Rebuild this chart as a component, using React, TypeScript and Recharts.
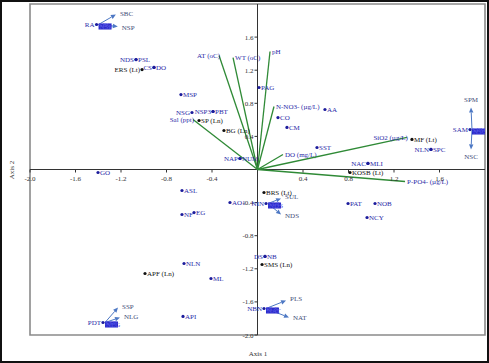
import React from "react";
import {
  ScatterChart,
  Scatter,
  XAxis,
  YAxis,
  ReferenceLine,
  ReferenceDot,
  ReferenceArea,
} from "recharts";

const W = 489;
const H = 363;
const FONT = "'Liberation Serif', 'Times New Roman', serif";
const BLUE = "#2a2aa8";
const DOT_BLUE = "#1c1c9c";
const GREEN = "#2f8a36";
const ARROW = "#4d78c4";
const LEADER_TEXT = "#3f4d78";

// axis ticks
const xTicks = [-2.0, -1.6, -1.2, -0.8, -0.4, 0.4, 0.8, 1.2, 1.6];
const yTicks = [1.6, 1.2, 0.8, 0.4, -0.4, -0.8, -1.2, -1.6, -2.0];

// environmental variables (green vectors from the origin)
const envNames = ["AT (oC)", "WT (oC)", "pH", "N-NO3- (µg/L)", "Sal (ppt)", "DO (mg/L)", "SiO2 (µg/L)", "P-PO4-  (µg/L)"];
const envX = [-0.338, -0.215, 0.11, 0.145, -0.567, 0.224, 1.314, 1.297];
const envY = [1.378, 1.353, 1.426, 0.761, 0.604, 0.181, 0.387, -0.145];
const envLabelLeft = ["AT (oC)", "Sal (ppt)", "SiO2 (µg/L)"];

// species, label right of the point
const spNames = ["PSL", "DO", "MSP", "PBT", "PAG", "AA", "CO", "CM", "SST", "NUM", "SPC", "MLI", "GO", "ASL", "NF", "EG", "AO1", "PAT", "NOB", "NCY", "NLN", "ML", "API", "NB"];
const spX = [-1.068, -0.91, -0.673, -0.391, 0.013, 0.593, 0.18, 0.259, 0.523, -0.154, 1.525, 0.971, -1.402, -0.664, -0.664, -0.558, -0.242, 0.796, 1.033, 0.963, -0.646, -0.409, -0.655, 0.066];
const spY = [1.329, 1.233, 0.906, 0.701, 0.991, 0.725, 0.628, 0.508, 0.266, 0.133, 0.242, 0.073, -0.036, -0.254, -0.544, -0.52, -0.399, -0.411, -0.411, -0.58, -1.136, -1.317, -1.776, -1.051];

// species with label left of the point
const spLeftNames = ["NDS", "CS", "NSG", "NSP3", "NAP", "NLN", "NAC", "DS"];
const spLeftX = [-1.068, -0.91, -0.576, -0.391, -0.154, 1.525, 0.971, 0.066];
const spLeftY = [1.329, 1.233, 0.689, 0.701, 0.133, 0.242, 0.073, -1.051];

// sites (black)
const siteNames = ["ERS (Lt)", "SP (Ln)", "BG (Ln)", "MF (Lt)", "KOSB (Lt)", "BRS (Lt)", "SMS (Ln)", "APF (Ln)"];
const siteX = [-1.015, -0.514, -0.295, 1.358, 0.813, 0.057, 0.04, -0.989];
const siteY = [1.208, 0.592, 0.471, 0.363, -0.036, -0.278, -1.148, -1.257];
const siteLabelLeft = ["ERS (Lt)"];

// crowded points (labels overlap)
const clusterNames = ["RA", "SAM", "NIN", "PDT", "NBN"];
const clusterX = [-1.415, 1.868, 0.075, -1.358, 0.057];
const clusterY = [1.752, 0.483, -0.411, -1.849, -1.68];

// labels moved out of a crowded point, with arrow tips
const leaderNames = ["SBC", "NSP", "SPM", "NSC", "SUL", "NDS", "SSP", "NLG", "PLS", "NAT"];
const leaderFrom = [0, 0, 1, 1, 2, 2, 3, 3, 4, 4];
const leaderX = [-1.245, -1.228, 1.877, 1.877, 0.207, 0.207, -1.226, -1.209, 0.251, 0.277];
const leaderY = [1.873, 1.728, 0.749, 0.242, -0.35, -0.544, -1.668, -1.789, -1.583, -1.788];

const txt = { fontFamily: FONT, fontSize: 7 } as const;

const makePoint = (dot: string, color: string, leftNames: string[], forceLeft = false) => (props: any) => {
  const { cx, cy, payload } = props;
  const left = forceLeft || leftNames.includes(payload.name);
  return (
    <g>
      <circle cx={cx} cy={cy} r={1.6} fill={dot} />
      <text
        x={left ? cx - 2 : cx + 2}
        y={cy + 2.5}
        textAnchor={left ? "end" : "start"}
        fill={color}
        style={txt}
      >
        {payload.name}
      </text>
    </g>
  );
};

// crowded point: overlapping labels end up as a blue blob
const clusterShape = (props: any) => {
  const { cx, cy, payload } = props;
  const hidden: string[] = payload.hidden;
  return (
    <g>
      <circle cx={cx} cy={cy} r={1.6} fill={DOT_BLUE} />
      <text x={cx - 2} y={cy + 2.5} textAnchor="end" fill={BLUE} style={txt}>
        {payload.name}
      </text>
      <rect x={cx + 2} y={cy - 1} width={13} height={6} fill="#2b2bc8" />
      {hidden.map((h, i) => (
        <text key={h} x={cx + 2 + i} y={cy + 2.5 + i * 2} fill="#5656e6" style={txt}>
          {h}
        </text>
      ))}
    </g>
  );
};

const vectorShape = (name: string) => (p: any) => {
  const { x1, y1, x2, y2 } = p;
  const left = envLabelLeft.includes(name);
  return (
    <g>
      <line x1={x1} y1={y1} x2={x2} y2={y2} stroke={GREEN} strokeWidth={1.3} />
      <text
        x={left ? x2 + 1 : x2 + 2}
        y={y2 + 2.5}
        textAnchor={left ? "end" : "start"}
        fill={BLUE}
        style={txt}
      >
        {name}
      </text>
    </g>
  );
};

const leaderShape = (name: string) => (p: any) => {
  const { x1, y1, x2, y2 } = p;
  const sx = x1 + 2;
  const dx = x2 - sx;
  const dy = y2 - y1;
  const len = Math.hypot(dx, dy) || 1;
  const ux = dx / len;
  const uy = dy / len;
  const hl = 5;
  const hw = 2.2;
  const bx = x2 - ux * hl;
  const by = y2 - uy * hl;
  const head = `${x2},${y2} ${bx - uy * hw},${by + ux * hw} ${bx + uy * hw},${by - ux * hw}`;
  const vertical = Math.abs(dx) < 3;
  let lx = x2 + 4;
  let ly = dy < 0 ? y2 + 1 : y2 + 3;
  let anchor: "start" | "middle" = "start";
  if (vertical) {
    anchor = "middle";
    lx = x2;
    ly = dy < 0 ? y2 - 6 : y2 + 10;
  }
  return (
    <g>
      <line x1={sx} y1={y1} x2={bx} y2={by} stroke={ARROW} strokeWidth={1} />
      <polygon points={head} fill={ARROW} />
      <text x={lx} y={ly} textAnchor={anchor} fill={LEADER_TEXT} style={txt}>
        {name}
      </text>
    </g>
  );
};

const xTickShape = (label: string) => (p: any) => (
  <g>
    <line x1={p.cx} y1={p.cy} x2={p.cx} y2={p.cy + 3} stroke="#333" />
    <text x={p.cx} y={p.cy + 11} textAnchor="middle" fill="#333" style={txt}>
      {label}
    </text>
  </g>
);

const yTickShape = (label: string) => (p: any) => (
  <g>
    <line x1={p.cx - 3} y1={p.cy} x2={p.cx} y2={p.cy} stroke="#333" />
    <text x={p.cx - 4} y={p.cy + 2.5} textAnchor="end" fill="#333" style={txt}>
      {label}
    </text>
  </g>
);

export default function App() {
  const species = spNames.map((name, i) => ({ name, x: spX[i], y: spY[i] }));
  const speciesLeft = spLeftNames.map((name, i) => ({ name, x: spLeftX[i], y: spLeftY[i] }));
  const sites = siteNames.map((name, i) => ({ name, x: siteX[i], y: siteY[i] }));
  const clusters = clusterNames.map((name, i) => ({
    name,
    x: clusterX[i],
    y: clusterY[i],
    hidden: leaderNames.filter((_, j) => leaderFrom[j] === i),
  }));

  return (
    <div style={{ position: "absolute", left: 0, top: 0, width: W, height: H, background: "#fff" }}>
      <ScatterChart width={W} height={H} margin={{ top: 4, right: 4, bottom: 28, left: 30 }}>
        <XAxis type="number" dataKey="x" domain={[-2, 2]} allowDataOverflow hide />
        <YAxis type="number" dataKey="y" domain={[-2, 2]} allowDataOverflow hide />
        <ReferenceArea x1={-2} x2={2} y1={-2} y2={2} fill="none" fillOpacity={0} stroke="#8a8a8a" strokeWidth={1.6} />
        <ReferenceLine x={0} stroke="#333" strokeWidth={1} />
        <ReferenceLine y={0} stroke="#333" strokeWidth={1} />
        {xTicks.map((t) => (
          <ReferenceDot key={`xt${t}`} x={t} y={0} r={1} shape={xTickShape(t.toFixed(1))} />
        ))}
        {yTicks.map((t) => (
          <ReferenceDot key={`yt${t}`} x={0} y={t} r={1} shape={yTickShape(t.toFixed(1))} />
        ))}
        {envNames.map((name, i) => (
          <ReferenceLine
            key={name}
            segment={[{ x: 0, y: 0 }, { x: envX[i], y: envY[i] }]}
            shape={vectorShape(name)}
          />
        ))}
        {leaderNames.map((name, i) => (
          <ReferenceLine
            key={`ld${name}${i}`}
            segment={[
              { x: clusterX[leaderFrom[i]], y: clusterY[leaderFrom[i]] },
              { x: leaderX[i], y: leaderY[i] },
            ]}
            shape={leaderShape(name)}
          />
        ))}
        <Scatter data={species} shape={makePoint(DOT_BLUE, BLUE, [])} isAnimationActive={false} />
        <Scatter data={speciesLeft} shape={makePoint(DOT_BLUE, BLUE, [], true)} isAnimationActive={false} />
        <Scatter data={sites} shape={makePoint("#111", "#111", siteLabelLeft)} isAnimationActive={false} />
        <Scatter data={clusters} shape={clusterShape} isAnimationActive={false} />
      </ScatterChart>
      <svg width={W} height={H} style={{ position: "absolute", left: 0, top: 0, pointerEvents: "none" }}>
        <rect x={1} y={1} width={W - 2} height={H - 2} fill="none" stroke="#111" strokeWidth={2} />
        <text x={14} y={170} transform="rotate(-90 14 170)" textAnchor="middle" fill="#333" style={txt}>
          Axis 2
        </text>
        <text x={258} y={356} textAnchor="middle" fill="#333" style={txt}>
          Axis 1
        </text>
      </svg>
    </div>
  );
}
